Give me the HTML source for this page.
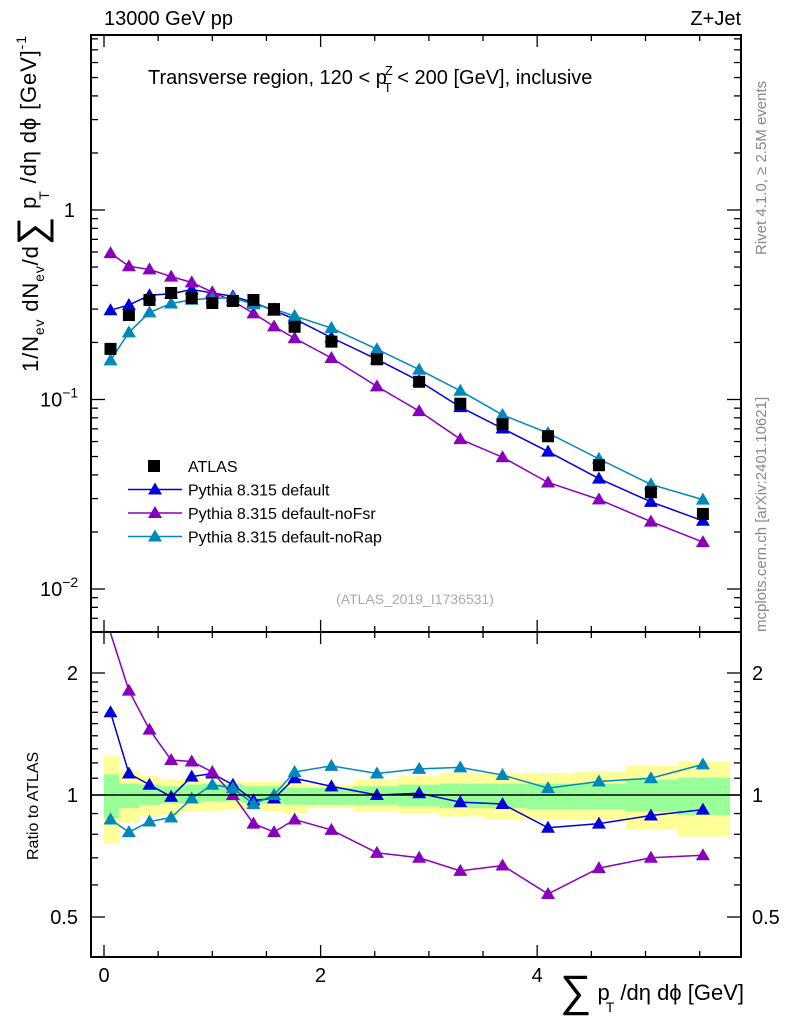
<!DOCTYPE html>
<html><head><meta charset="utf-8"><style>
body{margin:0;background:#fff}
svg{display:block;font-family:"Liberation Sans",sans-serif}
</style></head><body>
<svg id="c" width="786" height="1024" viewBox="0 0 786 1024" xmlns="http://www.w3.org/2000/svg">
<g id="bands"></g>
<g id="plots"></g>
<rect x="91" y="35" width="650" height="597" fill="none" stroke="#000" stroke-width="2"/>
<rect x="91" y="632" width="650" height="325" fill="none" stroke="#000" stroke-width="2"/>
<g id="axes"></g>
<text x="104" y="25" font-size="20">13000 GeV pp</text>
<text x="741" y="25" font-size="20" text-anchor="end">Z+Jet</text>
<text x="148" y="84" font-size="20">Transverse region, 120 &lt; p<tspan dy="-9" dx="-2" font-size="13">Z</tspan><tspan dy="17" dx="-9" font-size="13">T</tspan><tspan dy="-8"> &lt; 200 [GeV], inclusive</tspan></text>
<text x="415" y="604" font-size="14" fill="#aaa" text-anchor="middle">(ATLAS_2019_I1736531)</text>
<text transform="translate(766,255) rotate(-90)" font-size="15" fill="#888">Rivet 4.1.0, ≥ 2.5M events</text>
<text transform="translate(766,632) rotate(-90)" font-size="15" fill="#888">mcplots.cern.ch [arXiv:2401.10621]</text>
<text transform="translate(38,372) rotate(-90)" font-size="22" textLength="336">1/N<tspan font-size="14" dy="6">ev</tspan><tspan dy="-6"> dN</tspan><tspan font-size="14" dy="6">ev</tspan><tspan dy="-6">/d</tspan><tspan font-size="40" dy="7">∑</tspan><tspan dy="-9"> p</tspan><tspan font-size="14" dy="13" dx="-4">T</tspan><tspan dy="-13"> /dη dϕ  [GeV]</tspan><tspan font-size="14" dy="-10">-1</tspan></text>
<text transform="translate(38,860) rotate(-90)" font-size="16">Ratio to ATLAS</text>
<text x="744" y="1000" font-size="22" text-anchor="end"><tspan font-size="44" dy="6">∑</tspan><tspan dy="-6"> p</tspan><tspan font-size="14" dy="12" dx="-4">T</tspan><tspan dy="-12"> /dη dϕ [GeV]</tspan></text>
<g id="legend"></g>
</svg>
<script>
const xs=[0.06,0.23,0.42,0.62,0.81,1.0,1.19,1.38,1.57,1.76,2.1,2.52,2.91,3.29,3.68,4.1,4.57,5.05,5.53];
const atlas=[0.185,0.279,0.335,0.365,0.343,0.323,0.331,0.335,0.30,0.242,0.202,0.163,0.124,0.095,0.074,0.064,0.045,0.0324,0.0249];
const rDefault=[1.60,1.13,1.06,0.99,1.11,1.13,1.06,0.97,0.98,1.10,1.05,1.00,1.01,0.96,0.95,0.83,0.85,0.89,0.92];
const rNoFsr=[3.2,1.81,1.45,1.22,1.21,1.14,1.00,0.85,0.81,0.87,0.82,0.72,0.70,0.65,0.67,0.57,0.66,0.70,0.71];
const rNoRap=[0.87,0.81,0.86,0.88,0.98,1.06,1.04,0.95,1.00,1.14,1.18,1.13,1.16,1.17,1.12,1.04,1.08,1.10,1.19];
const binEdges=[0,0.14,0.33,0.52,0.71,0.9,1.09,1.28,1.47,1.66,1.88,2.3,2.72,3.1,3.5,3.9,4.35,4.82,5.3,5.78];
const yelUp=[1.246,1.146,1.113,1.092,1.103,1.081,1.081,1.081,1.081,1.071,1.061,1.092,1.113,1.134,1.134,1.134,1.146,1.183,1.211];
const yelDn=[0.759,0.855,0.885,0.893,0.910,0.910,0.920,0.920,0.910,0.902,0.928,0.910,0.902,0.885,0.868,0.868,0.868,0.820,0.789];
const grnUp=[1.124,1.067,1.061,1.051,1.061,1.067,1.067,1.051,1.051,1.041,1.041,1.051,1.061,1.067,1.067,1.067,1.067,1.092,1.103];
const grnDn=[0.876,0.928,0.946,0.955,0.955,0.964,0.964,0.955,0.955,0.946,0.946,0.946,0.937,0.928,0.928,0.920,0.920,0.910,0.893];
const xTicks=[0,2,4];
const mainTicks=[1,0.1,0.01];
const ratioTicks=[0.5,1,2];
const NS="http://www.w3.org/2000/svg";
const X=v=>104+v*108.3;
const Y=v=>210-Math.log10(v)*189.5;
const R=v=>{const r=795-Math.log2(v)*122;return Math.max(633,Math.min(956,r));};
function mk(t,a,p){const e=document.createElementNS(NS,t);for(const k in a)e.setAttribute(k,a[k]);(p||document.getElementById('c')).appendChild(e);return e;}
const bands=document.getElementById('bands');
for(let i=0;i<yelUp.length;i++){
 const r=mk('rect',{x:X(binEdges[i]),y:R(yelUp[i]),width:X(binEdges[i+1])-X(binEdges[i]),height:R(yelDn[i])-R(yelUp[i]),fill:'#ffff99'},bands);
 
 
}
for(let i=0;i<grnUp.length;i++){
 const r=mk('rect',{x:X(binEdges[i]),y:R(grnUp[i]),width:X(binEdges[i+1])-X(binEdges[i]),height:R(grnDn[i])-R(grnUp[i]),fill:'#99ff99'},bands);
 
 
}
const one=mk('line',{x1:91,x2:741,y1:R(1),y2:R(1),stroke:'#000','stroke-width':1.5});


const plots=document.getElementById('plots');
function tri(x,y,c,p){return mk('polygon',{points:`${x},${y-7} ${x-7},${y+5} ${x+7},${y+5}`,fill:c},p);}
const series=[['pythia-default','#0000dd',rDefault],['pythia-nofsr','#8800bb',rNoFsr],['pythia-norap','#0088bb',rNoRap]];
for(const [nm,col,rat] of series){
 const g=mk('g',{},plots);
 
 
 const mainPts=xs.map((x,i)=>[X(x),Y(atlas[i]*rat[i])]);
 const l=mk('polyline',{points:mainPts.map(p=>p.join(',')).join(' '),fill:'none',stroke:col,'stroke-width':1.5},g);
 
 
 mainPts.forEach(p=>{const t=tri(p[0],p[1],col,g);});
 const rg=mk('g',{},plots);
 
 
 const rPts=xs.map((x,i)=>[X(x),R(rat[i])]);
 const rl=mk('polyline',{points:rPts.map(p=>p.join(',')).join(' '),fill:'none',stroke:col,'stroke-width':1.5},rg);
 
 
 rPts.forEach(p=>{if(p[1]>634){const t=tri(p[0],p[1],col,rg);}});
}
const ag=mk('g',{},plots);


xs.forEach((x,i)=>{const s=mk('rect',{x:X(x)-6,y:Y(atlas[i])-6,width:12,height:12,fill:'#000'},ag);});
const axes=document.getElementById('axes');
for(let v=0;v<=5.75;v+=0.5){
 const maj=Math.abs(v-Math.round(v/2)*2)<1e-6;
 const L=maj?12:6;
 for(const [y0,dir] of [[632,-1],[35,1],[957,-1]]){
  mk('line',{x1:X(v),x2:X(v),y1:y0,y2:y0+dir*L,stroke:'#000','stroke-width':1.3},axes);
 }
 mk('line',{x1:X(v),x2:X(v),y1:632,y2:632+L,stroke:'#000','stroke-width':1.3},axes);
}
xTicks.forEach(v=>{const t=mk('text',{x:X(v),y:982,'font-size':20,'text-anchor':'middle'},axes);t.textContent=v;});
for(let d=-3;d<=0;d++){for(let m=1;m<=9;m++){const v=m*Math.pow(10,d);const y=Y(v);if(y<36||y>631)continue;const L=m==1?14:7;
 mk('line',{x1:91,x2:91+L,y1:y,y2:y,stroke:'#000','stroke-width':1.3},axes);
 mk('line',{x1:741,x2:741-L,y1:y,y2:y,stroke:'#000','stroke-width':1.3},axes);}}
const mainLbl=['1','10','10'],mainExp=['','−1','−2'];
mainTicks.forEach((v,i)=>{const t=mk('text',{x:75,y:Y(v)+7,'font-size':20,'text-anchor':i?'start':'end'},axes);t.textContent=mainLbl[i];
 if(mainExp[i]){const s=mk('tspan',{dy:-9,'font-size':14},t);s.textContent=mainExp[i];t.setAttribute('x',40);}
 });
[0.5,0.6,0.7,0.8,0.9,1,1.1,1.2,1.3,1.4,1.5,1.6,1.7,1.8,1.9,2].forEach(v=>{const y=R(v);const L=ratioTicks.includes(v)?14:7;
 mk('line',{x1:91,x2:91+L,y1:y,y2:y,stroke:'#000','stroke-width':1.3},axes);
 mk('line',{x1:741,x2:741-L,y1:y,y2:y,stroke:'#000','stroke-width':1.3},axes);});
ratioTicks.forEach(v=>{const t=mk('text',{x:78,y:R(v)+7,'font-size':20,'text-anchor':'end'},axes);t.textContent=v;
 const t2=mk('text',{x:752,y:R(v)+7,'font-size':20},axes);t2.textContent=v;});
const lg=document.getElementById('legend');
const legNames=['ATLAS','Pythia 8.315 default','Pythia 8.315 default-noFsr','Pythia 8.315 default-noRap'];
const legCols=['#000','#0000dd','#8800bb','#0088bb'];
legNames.forEach((n,i)=>{const y=466+i*23.5;
 const e=mk('g',{},lg);
 
 
 if(i==0)mk('rect',{x:148,y:y-6,width:12,height:12,fill:'#000'},e);
 else{mk('line',{x1:128,x2:182,y1:y,y2:y,stroke:legCols[i],'stroke-width':1.5},e);tri(155,y,legCols[i],e);}
 const t=mk('text',{x:188,y:y+6,'font-size':16},e);t.textContent=n;});
</script>
</body></html>
